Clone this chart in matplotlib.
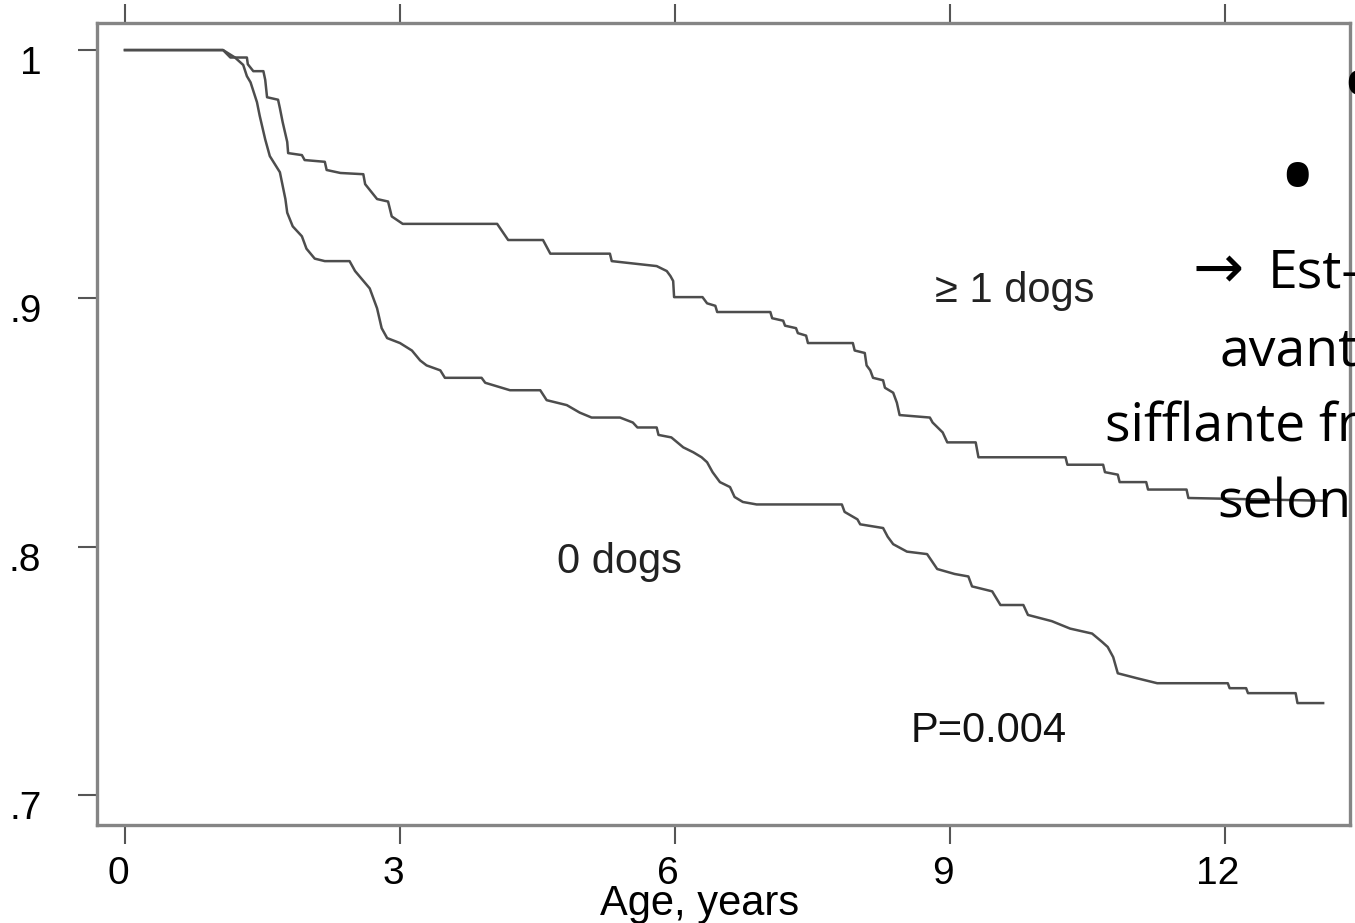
import matplotlib
matplotlib.use("Agg")
import matplotlib.pyplot as plt
import matplotlib.transforms as mtransforms

# Kaplan-Meier style curves (age in years, proportion)
dogs1_age = [0, 1.07, 1.15, 1.33, 1.34, 1.40, 1.51, 1.53, 1.55, 1.67, 1.69, 1.72, 1.77, 1.78,
             1.93, 1.96, 2.18, 2.20, 2.35, 2.60, 2.62, 2.75, 2.87, 2.91, 3.03, 4.06, 4.18,
             4.56, 4.64, 5.29, 5.31, 5.80, 5.91, 5.95, 5.98, 5.99, 6.30, 6.35, 6.44, 6.46,
             7.04, 7.06, 7.18, 7.20, 7.32, 7.34, 7.43, 7.45, 7.94, 7.96, 8.07, 8.09, 8.13,
             8.16, 8.27, 8.29, 8.38, 8.42, 8.45, 8.78, 8.81, 8.92, 8.97, 9.28, 9.31, 10.26,
             10.28, 10.67, 10.69, 10.83, 10.85, 11.14, 11.16, 11.58, 11.60, 13.07]
dogs1_surv = [1.0, 1.0, 0.997, 0.997, 0.9943, 0.9915, 0.9915, 0.988, 0.981, 0.980, 0.9766,
              0.971, 0.963, 0.9585, 0.9577, 0.9557, 0.955, 0.9517, 0.9505, 0.950, 0.946,
              0.940, 0.939, 0.933, 0.930, 0.930, 0.9235, 0.9235, 0.918, 0.918, 0.915, 0.913,
              0.911, 0.909, 0.907, 0.9005, 0.9005, 0.898, 0.897, 0.8945, 0.8945, 0.892, 0.891,
              0.889, 0.888, 0.886, 0.885, 0.882, 0.882, 0.879, 0.878, 0.873, 0.871, 0.868,
              0.867, 0.864, 0.862, 0.858, 0.853, 0.852, 0.850, 0.846, 0.842, 0.842, 0.836,
              0.836, 0.833, 0.833, 0.830, 0.829, 0.826, 0.826, 0.823, 0.823, 0.8196, 0.8185]

dogs0_age = [0, 1.07, 1.20, 1.29, 1.33, 1.37, 1.44, 1.47, 1.53, 1.58, 1.69, 1.75, 1.77, 1.83,
             1.93, 1.98, 2.07, 2.18, 2.45, 2.51, 2.67, 2.75, 2.80, 2.86, 3.00, 3.13, 3.22,
             3.29, 3.44, 3.49, 3.89, 3.93, 4.20, 4.53, 4.60, 4.82, 4.96, 5.09, 5.40, 5.54,
             5.59, 5.80, 5.82, 5.96, 6.09, 6.20, 6.29, 6.35, 6.41, 6.49, 6.60, 6.65, 6.74,
             6.89, 7.82, 7.85, 7.99, 8.02, 8.27, 8.32, 8.38, 8.53, 8.75, 8.86, 9.05, 9.20,
             9.24, 9.46, 9.55, 9.80, 9.85, 10.11, 10.31, 10.55, 10.66, 10.72, 10.78, 10.83,
             11.04, 11.26, 12.03, 12.05, 12.23, 12.25, 12.77, 12.79, 13.07]
dogs0_surv = [1.0, 1.0, 0.997, 0.994, 0.9895, 0.987, 0.979, 0.9735, 0.964, 0.9573, 0.9508,
              0.940, 0.9345, 0.929, 0.925, 0.920, 0.916, 0.915, 0.915, 0.911, 0.904, 0.896,
              0.888, 0.884, 0.882, 0.879, 0.875, 0.873, 0.871, 0.868, 0.868, 0.866, 0.863,
              0.863, 0.859, 0.857, 0.854, 0.852, 0.852, 0.850, 0.848, 0.848, 0.845, 0.844,
              0.840, 0.838, 0.836, 0.834, 0.830, 0.826, 0.824, 0.820, 0.818, 0.817, 0.817,
              0.814, 0.811, 0.809, 0.8075, 0.804, 0.801, 0.798, 0.797, 0.791, 0.789, 0.788,
              0.784, 0.782, 0.7765, 0.7765, 0.7725, 0.770, 0.767, 0.765, 0.7616, 0.7596,
              0.7555, 0.749, 0.747, 0.745, 0.745, 0.743, 0.743, 0.741, 0.741, 0.737, 0.737]

x_ticks = [0, 3, 6, 9, 12]
y_ticks = [0.7, 0.8, 0.9, 1.0]
y_ticklabels = ['.7', '.8', '.9', '1']

# slide text overlapping the figure on the right (cut off by the image edge)
slide_lines = ['Est-', 'avant', 'sifflante fr', 'selon']

W, H = 1355, 923
fig = plt.figure(figsize=(W / 100, H / 100), dpi=100)
ax = fig.add_axes([97 / W, 98 / H, 1253 / W, 802 / H])

line_kw = dict(color='#4d4d4d', linewidth=1.8)
ax.plot(dogs1_age, dogs1_surv, **line_kw)
ax.plot(dogs0_age, dogs0_surv, **line_kw)

ax.set_xlim(-0.305, 13.363)
ax.set_ylim(0.6879, 1.0109)

for side in ['left', 'right', 'top', 'bottom']:
    ax.spines[side].set_color('#858585')
    ax.spines[side].set_linewidth(2.4)

font = 'Liberation Sans'
ax.set_xticks(x_ticks)
ax.set_xticklabels([str(v) for v in x_ticks], fontsize=28, family=font)
ax.set_yticks(y_ticks)
ax.set_yticklabels(y_ticklabels, fontsize=28, family=font)
ax.tick_params(axis='x', which='both', direction='out', length=14, width=1.5,
               color='#555555', pad=8, top=True)
ax.tick_params(axis='y', which='both', direction='out', length=14, width=1.5,
               color='#555555', pad=26, right=False)

# labels in the scan sit a little off their ticks
for lab in ax.get_xticklabels():
    lab.set_transform(lab.get_transform() +
                      mtransforms.ScaledTranslation(-0.07, 0, fig.dpi_scale_trans))
for lab in ax.get_yticklabels():
    lab.set_transform(lab.get_transform() +
                      mtransforms.ScaledTranslation(0, -0.10, fig.dpi_scale_trans))

ax.set_xlabel('Age, years', fontsize=30, family=font)
ax.xaxis.set_label_coords(0.4805, -0.073)

ax.text(8.84, 0.8985, '\u2265 1 dogs', fontsize=30, family=font, va='baseline', color='#222222')
ax.text(4.71, 0.7894, '0 dogs', fontsize=30, family=font, va='baseline', color='#222222')
ax.text(8.57, 0.7213, 'P=0.004', fontsize=30, family=font, va='baseline', color='#111111')

slide_font = ['Open Sans', 'DejaVu Sans']
slide_x = [1268, 1220, 1105, 1217]
slide_base = [288, 365, 442, 518]
for txt, x, y in zip(slide_lines, slide_x, slide_base):
    fig.text(x / W, 1 - y / H, txt, fontsize=38.5, family=slide_font,
             ha='left', va='baseline', color='black')
fig.text(1193 / W, 1 - 288 / H, '\u2192', fontsize=44, family=['DejaVu Sans'],
         ha='left', va='baseline', color='black')

# bullets
fig.text(1297 / W, 1 - 213 / H, '\u2022', fontsize=76, family=slide_font,
         ha='center', va='baseline', color='black')
fig.text(1359 / W, 1 - 121 / H, '\u2022', fontsize=76, family=slide_font,
         ha='center', va='baseline', color='black')

fig.savefig('out.png', dpi=100)
